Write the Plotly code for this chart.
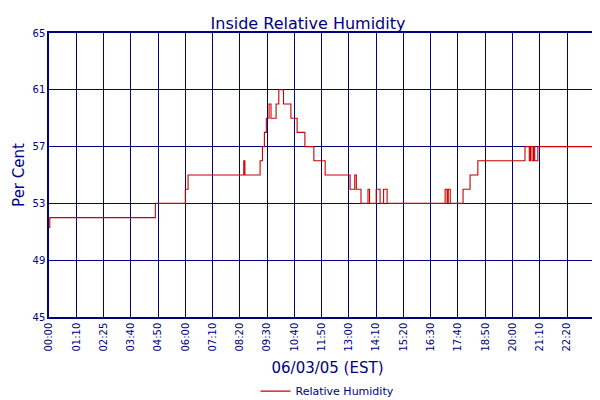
import plotly.graph_objects as go

NAVY = "#000080"

# breakpoints (time, %RH); the line holds each value until the next point
times = [
    "00:00", "00:02", "04:33", "05:50", "05:57", "08:20", "08:23", "08:28",
    "09:02", "09:08", "09:13", "09:18", "09:25", "09:30", "09:43", "09:50",
    "10:02", "10:14", "10:21", "10:37", "10:57", "11:20", "11:49",
    "12:53", "13:05", "13:09", "13:14", "13:21", "13:39", "13:43", "14:00",
    "14:10", "14:15", "14:19", "14:28", "16:57", "17:02", "17:05", "17:10",
    "17:43", "18:01", "18:21", "20:17", "20:22", "20:33", "20:36", "20:40",
    "20:44", "20:47", "20:55", "23:27", "23:32", "23:37", "23:50",
]
humidity = [
    51.3, 52, 53, 54, 55, 56, 55, 55,
    56, 57, 58, 59, 60, 59, 60, 61,
    60, 60, 59, 58, 57, 56, 55,
    54, 55, 54, 54, 53, 54, 53, 54,
    53, 53, 54, 53, 54, 53, 54, 53,
    54, 55, 56, 56, 57, 56, 57, 56,
    57, 56, 57, 56, 56, 57, 57,
]
tick_labels = [
    "00:00", "01:10", "02:25", "03:40", "04:50", "06:00", "07:10", "08:20",
    "09:30", "10:40", "11:50", "13:00", "14:10", "15:20", "16:30", "17:40",
    "18:50", "20:00", "21:10", "22:20", "23:30", "23:50",
]
y_ticks = [45, 49, 53, 57, 61, 65]


def to_min(t):
    h, m = t.split(":")
    return int(h) * 60 + int(m)


x_vals = [to_min(t) for t in times]
tick_vals = [to_min(t) for t in tick_labels]
tick_vals[1:20] = [70 * i for i in range(1, 20)]

fig = go.Figure()
fig.add_trace(go.Scatter(
    x=x_vals, y=humidity, mode="lines", line_shape="hv",
    line=dict(color="#cc0000", width=1.1), name="Relative Humidity",
))
fig.update_layout(
    width=600, height=400,
    font=dict(family="DejaVu Sans", color=NAVY, size=10),
    title=dict(text="Inside Relative Humidity", x=0.5, y=0.975,
               font=dict(size=16, color=NAVY)),
    margin=dict(l=41, r=2, t=25, b=82),
    paper_bgcolor="white", plot_bgcolor="white",
    showlegend=True,
    legend=dict(orientation="h", x=0.5, xanchor="center", y=-0.21,
                yanchor="top", font=dict(size=11, color=NAVY)),
    hovermode=False,
)
fig.update_xaxes(
    range=[0, 1430], tickvals=tick_vals, ticktext=tick_labels, tickangle=-90,
    showgrid=True, gridcolor=NAVY, gridwidth=1, showline=True, linecolor=NAVY,
    linewidth=1.5, mirror=True, zeroline=False, ticks="", automargin=False,
    title=dict(text="06/03/05 (EST)", font=dict(size=15, color=NAVY), standoff=12),
    tickfont=dict(size=10, color=NAVY),
)
fig.update_yaxes(
    range=[45, 65], tickvals=y_ticks, showgrid=True, gridcolor=NAVY,
    gridwidth=1, showline=True, linecolor=NAVY, linewidth=1.5, mirror=True,
    zeroline=False, ticks="", automargin=False,
    title=dict(text="Per Cent", font=dict(size=15, color=NAVY), standoff=4),
    tickfont=dict(size=10, color=NAVY),
)
fig.write_html("out.html")
